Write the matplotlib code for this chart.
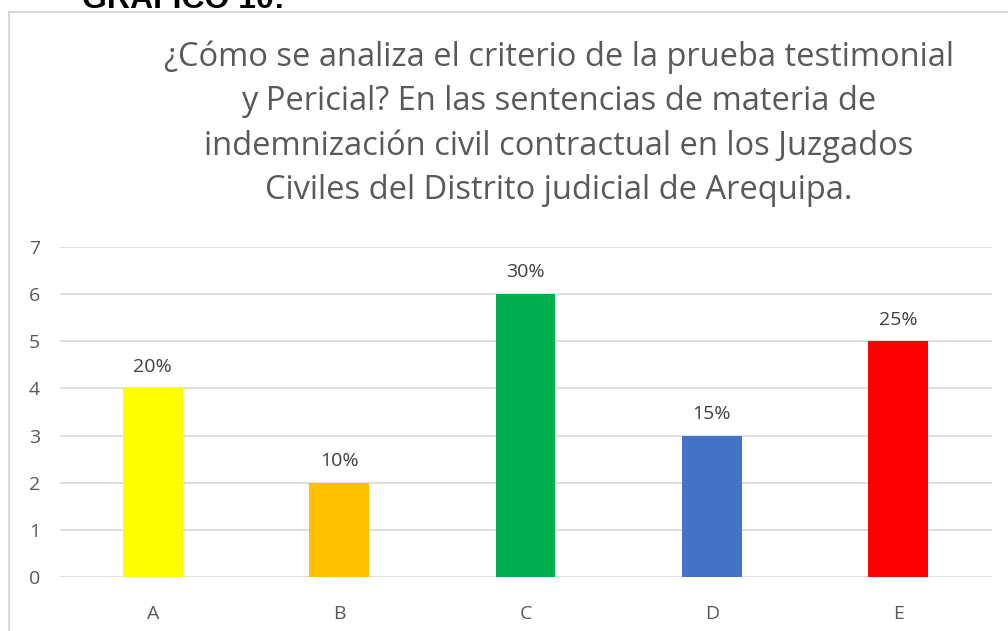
import matplotlib
matplotlib.use("Agg")
import matplotlib.pyplot as plt
from matplotlib.patches import Rectangle

categories = ["A", "B", "C", "D", "E"]
values = [4, 2, 6, 3, 5]
labels = ["20%", "10%", "30%", "15%", "25%"]
colors = ["#FFFF00", "#FFC000", "#00B050", "#4472C4", "#FF0000"]
title = ("¿Cómo se analiza el criterio de la prueba testimonial\n"
         "y Pericial? En las sentencias de materia de\n"
         "indemnización civil contractual en los Juzgados\n"
         "Civiles del Distrito judicial de Arequipa.")

W, H = 1008, 631
fig = plt.figure(figsize=(W/100, H/100), dpi=100)
fig.patch.set_facecolor("white")

# chart border
fig.patches.append(Rectangle((9/W, -0.1), 1.2, 1 - 12/H + 0.1, transform=fig.transFigure,
                             fill=False, edgecolor="#D9D9D9", linewidth=1.5))

fig.text(183/W, 1 - 8/H, "GRAFICO 10:", ha="center", va="baseline",
         fontsize=23, fontweight="bold", family="Liberation Sans", color="black")

fig.text(559/W, 1 - 40/H, title, ha="center", va="top", fontsize=23.5,
         family="Open Sans", color="#595959", linespacing=1.45)

ax = fig.add_axes([59.5/W, 1 - 577/H, 932/W, 330/H])
x = range(len(categories))
ax.bar(x, values, width=0.32, color=colors, zorder=3)
for xi, v, l in zip(x, values, labels):
    ax.text(xi, v + 0.27, l, ha="center", va="bottom", fontsize=14,
            family="Open Sans", color="#404040")
ax.set_xlim(-0.5, 4.5)
ax.set_ylim(0, 7)
ax.set_yticks(range(8))
ax.set_xticks(list(x))
ax.set_xticklabels(categories)
ax.grid(axis="y", color="#D9D9D9", linewidth=1.2, zorder=0)
for s in ax.spines.values():
    s.set_visible(False)
ax.tick_params(length=0, labelsize=14, colors="#595959")
ax.tick_params(axis="x", pad=20)
ax.tick_params(axis="y", pad=14)
for t in ax.get_xticklabels() + ax.get_yticklabels():
    t.set_family("Open Sans")
fig.savefig("out.png", dpi=100)
